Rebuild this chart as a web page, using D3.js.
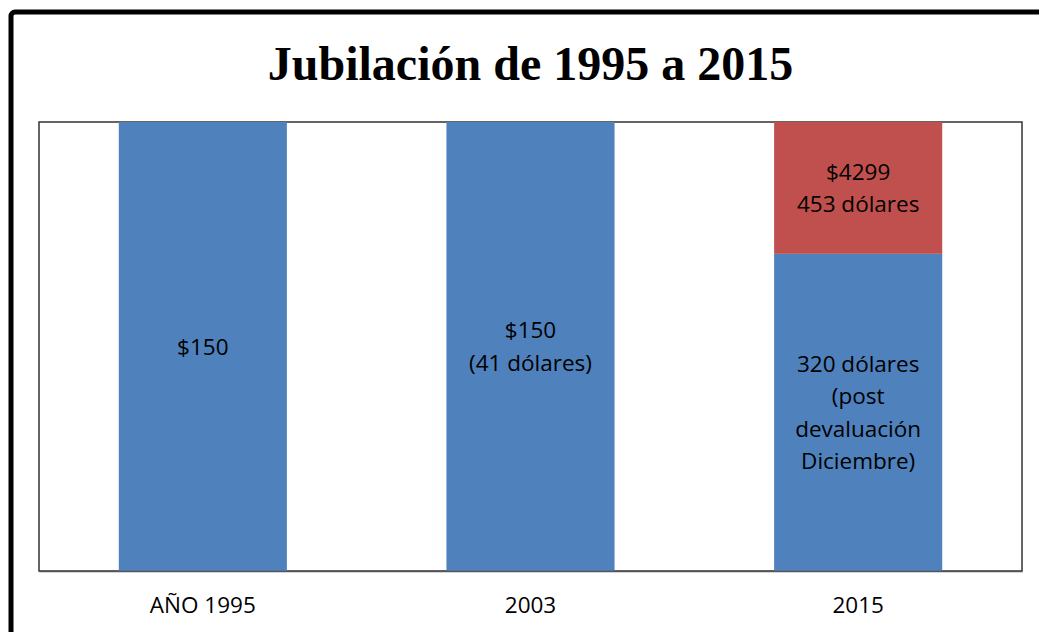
<!DOCTYPE html>
<html>
<head>
<meta charset="utf-8">
<script src="https://cdn.jsdelivr.net/npm/d3@7"></script>
<style>
  body { margin: 0; background: #fff; }
  svg { display: block; }
</style>
</head>
<body>
<svg></svg>
<script>
const categories = ['AÑO 1995', '2003', '2015'];
const baseValues = [150, 41, 320];
const extraValues = [0, 0, 133];
const baseLabels = [['$150'], ['$150', '(41 dólares)'], ['320 dólares', '(post', 'devaluación', 'Diciembre)']];
const extraLabels = [[], [], ['$4299', '453 dólares']];

const svg = d3.select('svg').attr('width', 1039).attr('height', 632);

const LEFT = 39, RIGHT = 1022, TOP = 122, BOTTOM = 571;
const LABEL_FONT = '"Open Sans", "Noto Sans", sans-serif';

// outer frame (runs off the right and bottom edges)
svg.append('rect')
    .attr('x', 11).attr('y', 12)
    .attr('width', 1100).attr('height', 700)
    .attr('rx', 4)
    .attr('fill', 'none')
    .attr('stroke', '#000')
    .attr('stroke-width', 5);

svg.append('text')
    .attr('x', (LEFT + RIGHT) / 2).attr('y', 80)
    .attr('text-anchor', 'middle')
    .style('font-family', '"Liberation Serif", "Times New Roman", serif')
    .style('font-weight', 'bold')
    .style('font-size', '48px')
    .text('Jubilación de 1995 a 2015');

const rows = categories.map((c, i) => ({cat: c, base: baseValues[i], extra: extraValues[i]}));
const series = d3.stack().keys(['base', 'extra']).offset(d3.stackOffsetExpand)(rows);

const x = d3.scaleBand().domain(categories).range([LEFT, RIGHT])
    .paddingInner(0.487).paddingOuter(0.2435);
const y = d3.scaleLinear().domain([0, 1]).range([BOTTOM, TOP]);
const colors = {base: '#4F81BD', extra: '#C0504D'};
const labels = {base: baseLabels, extra: extraLabels};

// plot frame
svg.append('rect')
    .attr('x', LEFT).attr('y', TOP)
    .attr('width', RIGHT - LEFT).attr('height', BOTTOM - TOP)
    .attr('fill', '#fff')
    .attr('stroke', '#333')
    .attr('stroke-width', 1.5);

const g = svg.append('g');
series.forEach(s => {
  g.selectAll(null).data(s).join('rect')
      .attr('x', d => x(d.data.cat))
      .attr('width', x.bandwidth())
      .attr('y', d => y(d[1]))
      .attr('height', d => y(d[0]) - y(d[1]))
      .attr('fill', colors[s.key]);

  s.forEach((d, i) => {
    const lines = labels[s.key][i];
    if (!lines.length || d[1] - d[0] <= 0) return;
    const cy = (y(d[0]) + y(d[1])) / 2;
    const lh = 32.5;
    const t = g.append('text')
        .attr('text-anchor', 'middle')
        .style('font-family', LABEL_FONT)
        .style('font-size', '22.5px')
        .attr('fill', '#000');
    lines.forEach((ln, k) => {
      t.append('tspan')
          .attr('x', x(d.data.cat) + x.bandwidth() / 2)
          .attr('y', cy + (k - (lines.length - 1) / 2) * lh + 8)
          .text(ln);
    });
  });
});

// x axis
const xAxis = d3.axisBottom(x).tickSize(0).tickPadding(26);
const xAxisG = svg.append('g').attr('transform', `translate(0, ${BOTTOM})`).call(xAxis);
xAxisG.select('.domain').attr('stroke', '#555').attr('stroke-width', 1.5);
xAxisG.selectAll('text')
    .style('font-family', LABEL_FONT)
    .style('font-size', '22.5px')
    .attr('fill', '#000');
</script>
</body>
</html>
